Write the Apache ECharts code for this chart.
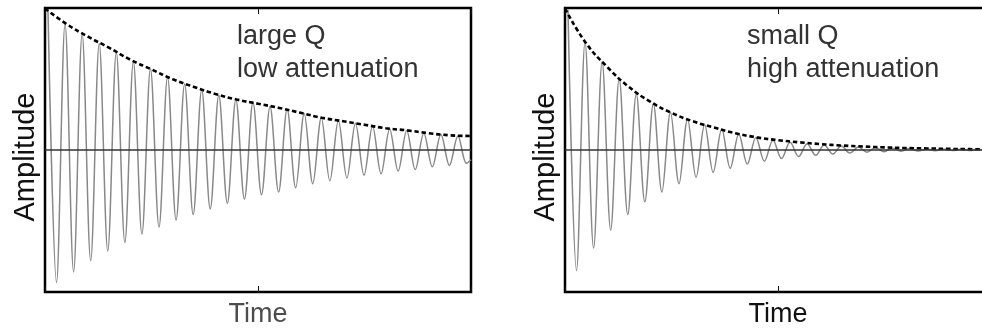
<!DOCTYPE html>
<html>
<head>
<meta charset="utf-8">
<script src="https://cdn.jsdelivr.net/npm/echarts@6/dist/echarts.min.js"></script>
<style>
  html, body { margin: 0; background: #fff; }
  #chart { width: 982px; height: 332px; }
</style>
</head>
<body>
<div id="chart"></div>
<script>
// time axis runs 0..100, first peak a little after 0, one oscillation ~4 units
const firstPeak = 0.7
const halfPeriod = 2.005

// large Q, low attenuation (amplitude relative to first peak)
const lowPeaks = [1.00, 0.90, 0.83, 0.76, 0.70, 0.63, 0.58, 0.52, 0.47, 0.43, 0.39, 0.36, 0.34,
  0.31, 0.29, 0.26, 0.23, 0.21, 0.19, 0.17, 0.15, 0.14, 0.12, 0.11, 0.10]
const lowTroughs = [0.945, 0.87, 0.79, 0.72, 0.66, 0.60, 0.55, 0.50, 0.46, 0.42, 0.38, 0.35, 0.32,
  0.30, 0.27, 0.24, 0.22, 0.20, 0.18, 0.17, 0.15, 0.14, 0.12, 0.11, 0.095]
const lowEndPoint = [100, -0.07]

// small Q, high attenuation
const highPeaks = [1.00, 0.77, 0.63, 0.51, 0.40, 0.33, 0.27, 0.22, 0.18, 0.15, 0.115, 0.09, 0.07,
  0.055, 0.044, 0.035, 0.028, 0.022, 0.017, 0.013, 0.010, 0.008, 0.006, 0.005, 0.004]
const highTroughs = [0.86, 0.70, 0.57, 0.46, 0.37, 0.30, 0.24, 0.195, 0.16, 0.13, 0.10, 0.08, 0.06,
  0.047, 0.038, 0.029, 0.022, 0.016, 0.012, 0.009, 0.007, 0.005, 0.004, 0.003, 0.002]

// dashed envelopes
const envTime = [0, 5, 10, 15, 20, 25, 30, 35, 40, 45, 50, 55, 60, 65, 70, 75, 80, 85, 90, 95, 100]
const lowEnvelope = [1.01, 0.90, 0.81, 0.73, 0.645, 0.575, 0.505, 0.45, 0.40, 0.36, 0.33, 0.30,
  0.265, 0.23, 0.205, 0.18, 0.155, 0.14, 0.12, 0.105, 0.10]
const highEnvelope = [1.01, 0.76, 0.59, 0.45, 0.345, 0.265, 0.205, 0.16, 0.12, 0.09, 0.07, 0.055,
  0.042, 0.032, 0.025, 0.019, 0.014, 0.011, 0.008, 0.006, 0.005]

function wave(peaks, troughs, endPoint) {
  const pts = []
  peaks.forEach((p, i) => {
    pts.push([firstPeak + 2 * i * halfPeriod, p])
    if (i < troughs.length) pts.push([firstPeak + (2 * i + 1) * halfPeriod, -troughs[i]])
  })
  if (endPoint) pts.push(endPoint)
  return pts
}

const panelLeft = [45, 565]
const textFont = 'Liberation Sans, Arial, Helvetica, sans-serif'

function xAxes(gridIndex, position, nameColor) {
  return {
    type: 'value',
    gridIndex: gridIndex,
    position: position,
    min: 0,
    max: 100,
    interval: 50,
    name: position === 'bottom' ? 'Time' : '',
    nameLocation: 'middle',
    nameGap: 9,
    nameTextStyle: { fontSize: 27, color: nameColor, fontFamily: textFont },
    axisLine: { show: false, onZero: false },
    axisTick: { show: true, inside: true, length: 6, lineStyle: { color: '#111', width: 1 } },
    axisLabel: { show: false },
    splitLine: { show: false }
  }
}

function curve(index, data) {
  return {
    type: 'line',
    xAxisIndex: index * 2,
    yAxisIndex: index,
    data: data,
    smooth: 0.35,
    showSymbol: false,
    lineStyle: { color: '#888', width: 1.5 },
    markLine: {
      silent: true,
      symbol: ['none', 'none'],
      label: { show: false },
      lineStyle: { color: '#333', width: 1.6, type: 'solid' },
      data: [{ yAxis: 0 }]
    },
    z: 2
  }
}

function envelope(index, values) {
  return {
    type: 'line',
    xAxisIndex: index * 2,
    yAxisIndex: index,
    data: envTime.map((t, i) => [t, values[i]]),
    smooth: true,
    showSymbol: false,
    lineStyle: { color: '#000', width: 2.6, type: [4.5, 2.8] },
    z: 3
  }
}

function note(x, text) {
  return {
    type: 'text',
    left: x,
    top: 20,
    style: { text: text, font: '27px ' + textFont, fill: '#333', lineHeight: 33 }
  }
}

function ylabel(x) {
  return {
    type: 'text',
    x: x,
    y: 157,
    rotation: Math.PI / 2,
    style: { text: 'Amplitude', font: '29px ' + textFont, fill: '#111', align: 'center', verticalAlign: 'middle' }
  }
}

const chart = echarts.init(document.getElementById('chart'))
chart.setOption({
  animation: false,
  grid: panelLeft.map(l => ({
    left: l, top: 8, width: 426, height: 284,
    outerBoundsMode: 'none',
    show: true, borderColor: '#000', borderWidth: 2.5, backgroundColor: 'transparent'
  })),
  xAxis: [
    xAxes(0, 'bottom', '#4d4d4d'), xAxes(0, 'top', '#4d4d4d'),
    xAxes(1, 'bottom', '#111'), xAxes(1, 'top', '#111')
  ],
  yAxis: [0, 1].map(g => ({ type: 'value', gridIndex: g, min: -1.013, max: 1.013, show: false })),
  series: [
    curve(0, wave(lowPeaks, lowTroughs, lowEndPoint)),
    envelope(0, lowEnvelope),
    curve(1, wave(highPeaks, highTroughs)),
    envelope(1, highEnvelope)
  ],
  graphic: [
    note(237, 'large Q\nlow attenuation'),
    note(747, 'small Q\nhigh attenuation'),
    ylabel(26),
    ylabel(546)
  ]
})
</script>
</body>
</html>
